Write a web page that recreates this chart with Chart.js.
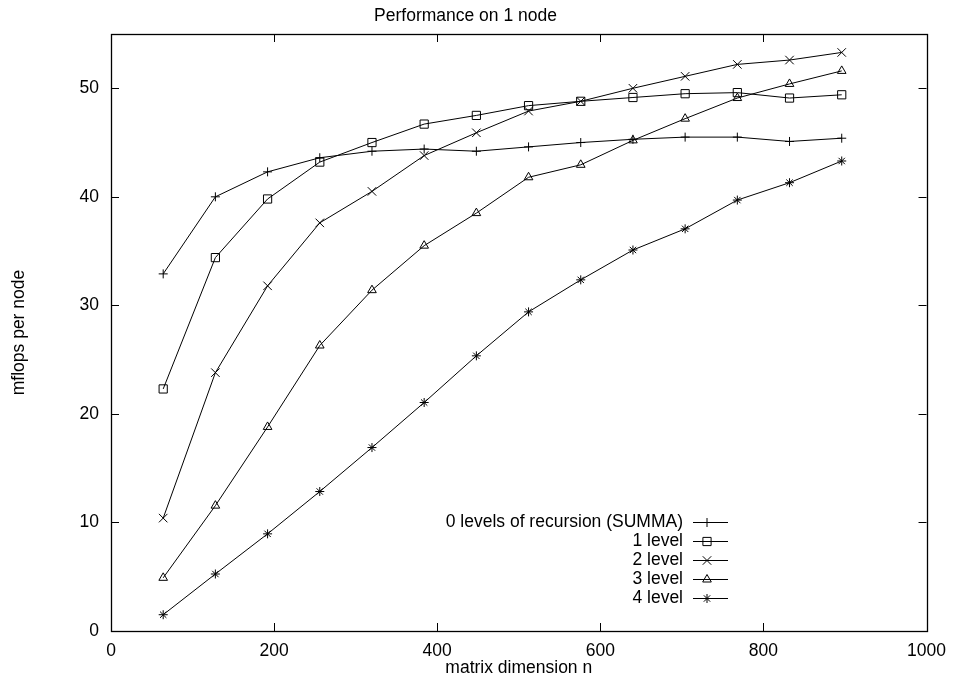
<!DOCTYPE html>
<html>
<head>
<meta charset="utf-8">
<script src="https://cdn.jsdelivr.net/npm/chart.js@4/dist/chart.umd.min.js"></script>
<style>
html,body{margin:0;padding:0;background:#fff;}
#wrap{width:956px;height:683px;position:relative;}
</style>
</head>
<body>
<div id="wrap"><canvas id="c" width="956" height="683"></canvas></div>
<script>
const matrixSizes = [64,128,192,256,320,384,448,512,576,640,704,768,832,896];
const seriesLabels = ['0 levels of recursion (SUMMA)','1 level','2 level','3 level','4 level'];
const level0 = [32.9,40.0,42.3,43.6,44.2,44.4,44.2,44.6,45.0,45.3,45.5,45.5,45.1,45.4];
const level1 = [22.3,34.4,39.8,43.2,45.0,46.7,47.5,48.4,48.8,49.15,49.5,49.6,49.1,49.4];
const level2 = [10.4,23.8,31.8,37.6,40.5,43.8,45.9,47.9,48.8,50.0,51.1,52.2,52.6,53.3];
const level3 = [4.9,11.55,18.8,26.3,31.4,35.5,38.5,41.8,42.95,45.2,47.2,49.1,50.4,51.6];
const level4 = [1.5,5.25,8.95,12.85,16.9,21.05,25.35,29.4,32.35,35.1,37.05,39.7,41.3,43.3];
const xTicks = [0,200,400,600,800,1000];
const yTicks = [0,10,20,30,40,50];

const FONT = 'Liberation Sans, Arial, Helvetica, sans-serif';
const FS = 17.5;
const pointStyles = ['cross','rect','crossRot','triangle','star'];
const pointRadii = [4.5,5.8,6,5,4.5];
const allSeries = [level0,level1,level2,level3,level4];

const datasets = allSeries.map((vals,i)=>({
  label: seriesLabels[i],
  data: matrixSizes.map((x,j)=>({x:x,y:vals[j]})),
  borderColor:'#000',
  backgroundColor:'rgba(0,0,0,0)',
  borderWidth:1,
  pointStyle: pointStyles[i],
  pointRadius: pointRadii[i],
  pointBorderColor:'#000',
  pointBackgroundColor:'rgba(0,0,0,0)',
  pointBorderWidth:1,
  tension:0,
  fill:false
}));

const framePlugin = {
  id:'frame',
  afterDraw(chart){
    const ctx = chart.ctx, a = chart.chartArea;
    const xs = chart.scales.x, ys = chart.scales.y;
    const tl = 8;
    ctx.save();
    ctx.strokeStyle = '#000';
    ctx.lineWidth = 1;
    ctx.beginPath();
    xTicks.forEach(v=>{
      const px = Math.round(xs.getPixelForValue(v))+0.5;
      ctx.moveTo(px,a.bottom); ctx.lineTo(px,a.bottom-tl);
      ctx.moveTo(px,a.top); ctx.lineTo(px,a.top+tl);
    });
    yTicks.forEach(v=>{
      const py = Math.round(ys.getPixelForValue(v))+0.5;
      ctx.moveTo(a.left,py); ctx.lineTo(a.left+tl,py);
      ctx.moveTo(a.right,py); ctx.lineTo(a.right-tl,py);
    });
    ctx.stroke();
    ctx.lineWidth = 1.3;
    ctx.strokeRect(Math.round(a.left)+0.5, Math.round(a.top)+0.5, Math.round(a.right-a.left), Math.round(a.bottom-a.top));
    // legend
    const textRight = 683, lineL = 693, lineR = 728, markX = 707;
    ctx.font = FS + 'px ' + FONT;
    ctx.textAlign = 'right';
    ctx.textBaseline = 'middle';
    chart.data.datasets.forEach((ds,i)=>{
      const y = 522 + i*19;
      ctx.fillStyle = '#000';
      ctx.fillText(ds.label, textRight, y);
      ctx.strokeStyle = '#000';
      ctx.lineWidth = 1;
      ctx.beginPath();
      ctx.moveTo(lineL, Math.round(y)+0.5); ctx.lineTo(lineR, Math.round(y)+0.5);
      ctx.stroke();
      if (Chart.helpers && Chart.helpers.drawPoint) {
        ctx.fillStyle = 'rgba(0,0,0,0)';
        ctx.strokeStyle = '#000';
        Chart.helpers.drawPoint(ctx, {pointStyle: ds.pointStyle, radius: ds.pointRadius, rotation:0, borderWidth:1}, markX, Math.round(y)+0.5);
      }
    });
    ctx.restore();
  }
};

new Chart(document.getElementById('c'), {
  type:'line',
  data:{datasets:datasets},
  options:{
    responsive:false,
    animation:false,
    devicePixelRatio:1,
    layout:{padding:{left:0,right:25,top:0,bottom:0}},
    plugins:{
      legend:{display:false},
      tooltip:{enabled:false},
      title:{
        display:true,
        text:'Performance on 1 node',
        color:'#000',
        font:{family:FONT,size:FS,weight:'normal'},
        padding:{top:6,bottom:7}
      }
    },
    scales:{
      x:{
        type:'linear',
        min:0,max:1000,
        afterBuildTicks(s){ s.ticks = xTicks.map(v=>({value:v})); },
        afterFit(s){ s.height = 52; },
        grid:{display:false,drawTicks:false},
        border:{display:false},
        ticks:{color:'#000',font:{family:FONT,size:FS},padding:10,maxRotation:0,autoSkip:false,callback:(v)=>String(v)},
        title:{display:true,text:'matrix dimension n',color:'#000',font:{family:FONT,size:FS},padding:{top:0,bottom:4}}
      },
      y:{
        type:'linear',
        min:0,max:55,
        afterBuildTicks(s){ s.ticks = yTicks.map(v=>({value:v})); },
        afterFit(s){ s.width = 111; },
        grid:{display:false,drawTicks:false},
        border:{display:false},
        ticks:{color:'#000',font:{family:FONT,size:FS},padding:12,autoSkip:false,callback:(v)=>String(v)},
        title:{display:true,text:'mflops per node',color:'#000',font:{family:FONT,size:FS},padding:{top:9,bottom:0}}
      }
    }
  },
  plugins:[framePlugin]
});
</script>
</body>
</html>
